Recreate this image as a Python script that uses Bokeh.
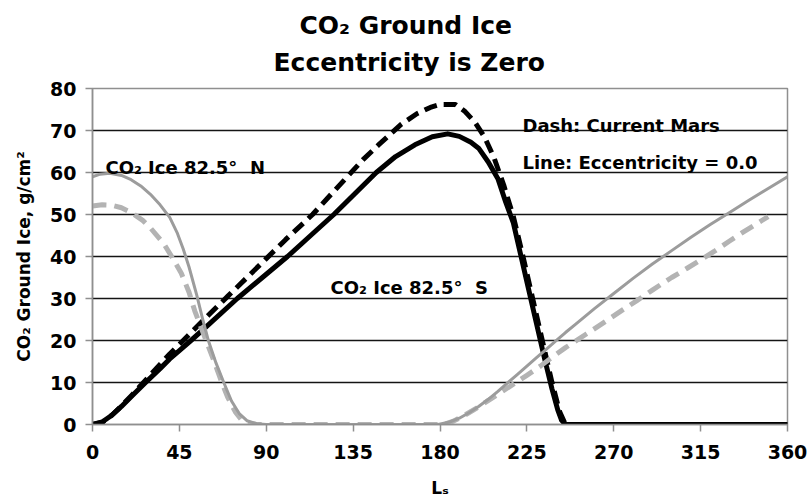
from bokeh.plotting import figure
from bokeh.models import Range1d, FixedTicker, Label, Title
from bokeh.embed import file_html
from bokeh.resources import INLINE

# Solar longitude Ls (deg) and CO2 ground ice (g/cm^2)

# 82.5 S, eccentricity = 0.0 (solid black)
ls_south_e0 = [0, 5, 10, 15, 20, 27.5, 35, 40, 45, 51, 60, 75, 88, 101, 113, 125,
               136, 147, 157, 167, 176, 184, 190, 196, 200, 205, 210, 214, 218,
               222, 226, 230, 234, 238, 241, 243, 245, 300, 360]
ice_south_e0 = [0, 0.6, 2.2, 4.3, 6.6, 10, 13.3, 15.6, 17.6, 20, 23.7, 30, 35, 40,
                45, 50, 55, 60, 63.8, 66.6, 68.5, 69.2, 68.6, 67.2, 65.8, 62.5,
                58.5, 53, 48, 40, 32, 24, 16, 8.5, 3.5, 1, 0, 0, 0]

# 82.5 S, current Mars orbit (dashed black)
ls_south_now = [0, 5, 10, 15, 20, 25, 30, 35, 40, 47, 60, 70, 80, 90, 100, 114,
                125, 132, 140, 148, 160, 168, 175, 180, 188, 193, 198, 203, 208,
                213, 218, 223, 228, 233, 238, 242, 245, 255, 360]
ice_south_now = [0, 0.5, 2.2, 4.4, 6.8, 9.3, 11.8, 14.3, 16.8, 20, 26, 30.5, 35,
                 39.5, 44, 50, 55.5, 59, 63, 66.5, 71.5, 74, 75.5, 76.2, 76.2,
                 74.5, 72, 68.5, 63.5, 57, 49.5, 40, 30, 20, 10, 3, 0, 0, 0]

# 82.5 N, eccentricity = 0.0 (solid grey)
ls_north_e0 = [0, 4, 9, 15, 20, 25, 30, 35, 40, 44, 47, 50, 54, 57, 60, 64, 68,
               72, 76, 80, 85, 90, 179, 185, 190, 195, 200, 205, 210, 215, 220,
               225, 230, 235, 240, 245, 250, 260, 270, 280, 290, 300, 310, 320,
               330, 340, 350, 360]
ice_north_e0 = [59, 59.6, 59.8, 59.3, 58.3, 56.8, 54.8, 52.3, 49.3, 45.5, 41.8,
                37.5, 30.8, 25.2, 20, 14.6, 10, 5.6, 2.6, 0.9, 0.2, 0, 0, 0.6,
                1.5, 2.8, 4.3, 6, 7.9, 9.9, 11.9, 13.9, 15.9, 17.9, 19.9, 21.9,
                23.8, 27.6, 31.2, 34.8, 38.2, 41.4, 44.6, 47.6, 50.5, 53.4, 56.2,
                59]

# 82.5 N, current Mars orbit (dashed grey)
ls_north_now = [0, 5, 10, 15, 20, 26, 30, 37, 41, 46, 50, 53, 58, 63, 67, 70, 74,
                77, 80, 85, 182, 187, 192, 200, 210, 218, 225, 232, 238, 245, 256,
                265, 275, 282, 290, 300, 308, 315, 322, 330, 337, 344, 350]
ice_north_now = [52, 52.3, 52.2, 51.6, 50.5, 48.6, 46.8, 43, 40, 36, 31.5, 27, 21,
                 15, 10, 6.5, 3, 1.2, 0.4, 0, 0, 0.8, 2, 4.2, 7.2, 9.6, 11.7, 13.9,
                 16, 18.3, 21.6, 24.3, 27.4, 29.5, 32, 35, 37.2, 39.2, 41.2, 43.7,
                 45.8, 47.8, 49.5]

x_ticks = [0, 45, 90, 135, 180, 225, 270, 315, 360]
y_ticks = [0, 10, 20, 30, 40, 50, 60, 70, 80]

FONT = "DejaVu Sans"
FRAME_GREY = "#8f8f8f"

p = figure(width=807, height=500,
           x_range=Range1d(0, 360), y_range=Range1d(0, 80),
           output_backend="svg", toolbar_location=None,
           min_border_left=92, min_border_right=20,
           min_border_top=88, min_border_bottom=76)
p.background_fill_color = "white"
p.border_fill_color = "white"
p.outline_line_color = FRAME_GREY
p.outline_line_width = 1.5

# two-line chart title: the figure's own title is the upper line,
# the extra Title sits between it and the plot frame
p.title.text = "CO₂ Ground Ice"
p.title.align = "left"
p.title.offset = 207
p.title.text_font = FONT
p.title.text_font_style = "bold"
p.title.text_font_size = "25px"
p.title.text_color = "black"
p.title.standoff = -10
p.add_layout(Title(text="Eccentricity is Zero", align="left", offset=181,
                   text_font=FONT, text_font_style="bold", text_color="black",
                   text_font_size="25px", standoff=23), "above")

p.xgrid.visible = False
p.ygrid.ticker = FixedTicker(ticks=y_ticks[1:-1])
p.ygrid.grid_line_color = "#141414"
p.ygrid.grid_line_width = 1.6

for ax, ticks in ((p.xaxis[0], x_ticks), (p.yaxis[0], y_ticks)):
    ax.ticker = FixedTicker(ticks=ticks)
    ax.axis_line_color = FRAME_GREY
    ax.axis_line_width = 1.5
    ax.major_tick_line_color = FRAME_GREY
    ax.major_tick_line_width = 1.5
    ax.major_tick_out = 7
    ax.major_tick_in = 0
    ax.minor_tick_line_color = None
    ax.major_label_text_font = FONT
    ax.major_label_text_font_style = "bold"
    ax.major_label_text_font_size = "19px"
    ax.major_label_text_color = "black"
    ax.axis_label_text_font = FONT
    ax.axis_label_text_font_style = "bold"
    ax.axis_label_text_color = "black"

p.xaxis[0].major_label_standoff = 13
p.yaxis[0].major_label_standoff = 9
p.xaxis[0].axis_label = "Lₛ"
p.xaxis[0].axis_label_text_font_size = "17px"
p.xaxis[0].axis_label_standoff = 16
p.yaxis[0].axis_label = "CO₂ Ground Ice, g/cm²"
p.yaxis[0].axis_label_text_font_size = "17px"
p.yaxis[0].axis_label_standoff = 13

# curves
p.line(ls_south_now, ice_south_now, line_color="black", line_width=5,
       line_dash="13 7", line_join="round")
p.line(ls_south_e0, ice_south_e0, line_color="black", line_width=5,
       line_join="round", line_cap="round")
p.line(ls_north_now, ice_north_now, line_color="#b3b3b3", line_width=5,
       line_dash="14 8", line_join="round")
p.line(ls_north_e0, ice_north_e0, line_color="#9c9c9c", line_width=3,
       line_join="round", line_cap="round")


def note(x, y, s):
    p.add_layout(Label(x=x, y=y, text=s, text_font=FONT, text_font_style="bold",
                       text_font_size="18px", text_color="black",
                       text_align="left", text_baseline="alphabetic"))


NBSP = "\u00a0"
note(6.7, 61.3, "CO₂ Ice 82.5°" + NBSP + " N")
note(123.3, 32.7, "CO₂ Ice 82.5°" + NBSP + " S")
note(222.7, 71.2, "Dash: Current Mars")
note(222.7, 62.4, "Line: Eccentricity = 0.0")

open("out.html", "w").write(file_html(p, INLINE))
